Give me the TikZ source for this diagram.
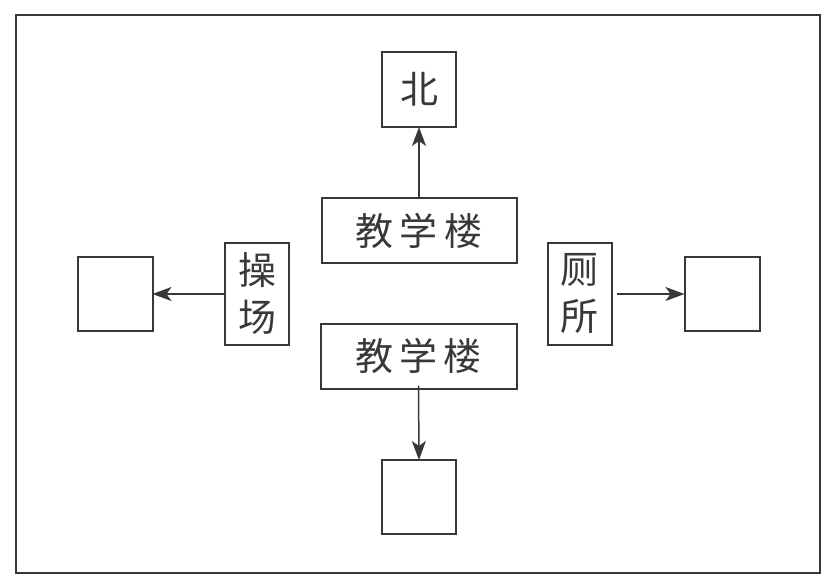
\documentclass[tikz,border=0pt]{standalone}
\usepackage{fontspec}
\newfontfamily\cjk{Noto Sans CJK SC}
\usetikzlibrary{arrows.meta}
\definecolor{ink}{gray}{0.22}
\tikzset{tipstyle/.tip={Stealth[length=19pt,width=14pt,inset=5pt]}}
\begin{document}
\begin{tikzpicture}[x=1pt,y=-1pt,
  box/.style={draw=ink,line width=2pt,inner sep=0pt,outer sep=0pt,text=ink,font=\cjk\fontsize{38}{47}\selectfont,align=center},
  conn/.style={draw=ink,line width=1.5pt,-tipstyle}]
\useasboundingbox (0,0) rectangle (827,584);
\draw[ink,line width=2pt] (16,15) rectangle (820,573);
\node[box,minimum width=74pt,minimum height=75pt] (north) at (419,89.5) {北};
\node[box,minimum width=195pt,minimum height=65pt] (top) at (419,230.5) {教\,学\,楼};
\node[box,minimum width=196pt,minimum height=65pt] (bot) at (418.5,356) {教\,学\,楼};
\node[box,minimum width=74pt,minimum height=74pt] (south) at (419,497) {};
\node[box,minimum width=64pt,minimum height=102pt] (play) at (257,294) {操\\场};
\node[box,minimum width=64pt,minimum height=102pt] (wc) at (579.5,294) {厕\\所};
\node[box,minimum width=75pt,minimum height=74pt] (west) at (115,294) {};
\node[box,minimum width=75pt,minimum height=74pt] (east) at (722,294) {};
\draw[conn] (top.north) -- (north.south);
\draw[conn] ([yshift=3pt]bot.south) -- (south.north);
\draw[conn] (play.west) -- (west.east);
\draw[conn] ([xshift=5pt]wc.east) -- (east.west);
\end{tikzpicture}
\end{document}
